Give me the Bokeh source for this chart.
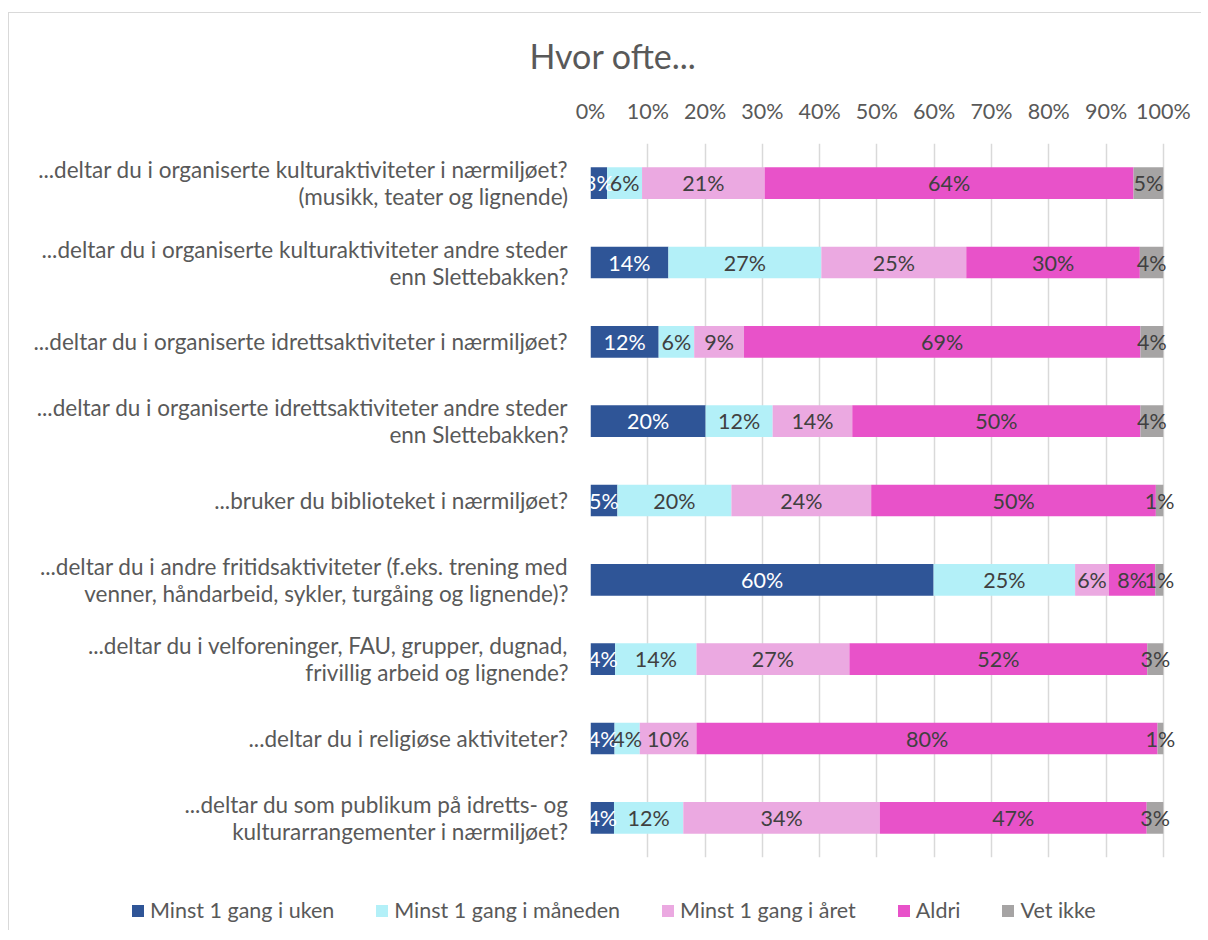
import numpy as np
from bokeh.plotting import figure
from bokeh.layouts import column
from bokeh.models import (ColumnDataSource, FactorRange, Range1d, NumeralTickFormatter,
                          FixedTicker, Legend, LegendItem)
from bokeh.core.properties import value
from bokeh.embed import file_html
from bokeh.resources import INLINE

categories = [
    "...deltar du i organiserte kulturaktiviteter i nærmiljøet?\n(musikk, teater og lignende)",
    "...deltar du i organiserte kulturaktiviteter andre steder\nenn Slettebakken?",
    "...deltar du i organiserte idrettsaktiviteter i nærmiljøet?",
    "...deltar du i organiserte idrettsaktiviteter andre steder\nenn Slettebakken?",
    "...bruker du biblioteket i nærmiljøet?",
    "...deltar du i andre fritidsaktiviteter (f.eks. trening med\nvenner, håndarbeid, sykler, turgåing og lignende)?",
    "...deltar du i velforeninger, FAU, grupper, dugnad,\nfrivillig arbeid og lignende?",
    "...deltar du i religiøse aktiviteter?",
    "...deltar du som publikum på idretts- og\nkulturarrangementer i nærmiljøet?",
]
series = ["Minst 1 gang i uken", "Minst 1 gang i måneden", "Minst 1 gang i året", "Aldri", "Vet ikke"]

uken     = [2.9, 13.6, 11.9, 20.1, 4.7, 59.9, 4.3, 4.2, 4.1]
maaneden = [6.1, 26.7, 6.2, 11.7, 19.9, 24.7, 14.2, 4.4, 12.1]
aaret    = [21.4, 25.3, 8.7, 13.9, 24.4, 5.9, 26.7, 9.9, 34.3]
aldri    = [64.4, 30.3, 69.2, 50.3, 49.7, 8.1, 52.0, 80.5, 46.6]
vet_ikke = [5.2, 4.1, 4.0, 4.0, 1.3, 1.4, 2.8, 1.0, 2.9]

colors = ["#2F5597", "#B3F0F8", "#EBA9E1", "#E852C9", "#A6A4A4"]
label_colors = ["#FFFFFF", "#404040", "#404040", "#404040", "#404040"]

FONT = "Lato"

vals = np.array([uken, maaneden, aaret, aldri, vet_ikke]) / 100.0
rights = np.cumsum(vals, axis=0)
lefts = rights - vals

data = {"cat": categories}
for i in range(len(series)):
    data[f"l{i}"] = lefts[i]
    data[f"r{i}"] = rights[i]
    data[f"m{i}"] = (lefts[i] + rights[i]) / 2
    data[f"t{i}"] = [f"{round(v * 100)}%" for v in vals[i]]
src = ColumnDataSource(data)

p = figure(width=1192, height=857, output_backend="svg", toolbar_location=None,
           y_range=FactorRange(factors=categories[::-1]),
           x_range=Range1d(0, 1.03), x_axis_location="above",
           min_border_left=581, min_border_right=21, min_border_top=130, min_border_bottom=13,
           title="Hvor ofte...")
p.outline_line_color = None
p.background_fill_color = "white"

p.title.text_font = FONT
p.title.text_font_size = "34px"
p.title.text_font_style = "normal"
p.title.text_color = "#595959"
p.title.align = "left"
p.title.offset = -61
p.title.standoff = 38

for i in range(len(series)):
    p.hbar(y="cat", left=f"l{i}", right=f"r{i}", height=0.4, source=src,
           fill_color=colors[i], line_color=None)
for i in range(len(series)):
    p.text(x=f"m{i}", y="cat", text=f"t{i}", source=src, text_align="center",
           text_baseline="middle", text_font=value(FONT), text_font_size="21.5px",
           text_color=label_colors[i])

p.xaxis.ticker = FixedTicker(ticks=[i / 10 for i in range(11)])
p.xaxis.formatter = NumeralTickFormatter(format="0%")
p.xaxis.axis_line_color = None
p.xaxis.major_tick_line_color = None
p.xaxis.minor_tick_line_color = None
p.xaxis.major_tick_out = 0
p.xaxis.major_label_standoff = 20
p.xaxis.major_label_text_font = FONT
p.xaxis.major_label_text_font_size = "21.5px"
p.xaxis.major_label_text_color = "#595959"

p.yaxis.axis_line_color = None
p.yaxis.major_tick_line_color = None
p.yaxis.major_tick_out = 0
p.yaxis.major_label_standoff = 22
p.yaxis.major_label_text_font = FONT
p.yaxis.major_label_text_font_size = "22.5px"
p.yaxis.major_label_text_line_height = 1.0
p.yaxis.major_label_text_color = "#595959"

p.xgrid.grid_line_color = "#D9D9D9"
p.xgrid.grid_line_width = 1.5
p.ygrid.grid_line_color = None

# legend strip below the chart
leg = figure(width=1192, height=60, output_backend="svg", toolbar_location=None,
             x_range=Range1d(0, 1), y_range=Range1d(0, 1),
             min_border_left=0, min_border_right=0, min_border_top=0, min_border_bottom=0)
leg.frame_align = False
leg.xaxis.visible = False
leg.yaxis.visible = False
leg.xgrid.grid_line_color = None
leg.ygrid.grid_line_color = None
leg.outline_line_color = None
leg_renderers = []
for i in range(len(series)):
    # zero-size proxy glyph: only used to draw the legend swatch
    r = leg.hbar(y=[0], left=[0], right=[0], height=0, fill_color=colors[i], line_color=None)
    leg_renderers.append(r)
legend = Legend(items=[LegendItem(label=s, renderers=[r]) for s, r in zip(series, leg_renderers)],
                orientation="horizontal", location=(121, 7),
                glyph_width=15, glyph_height=15, label_standoff=5, spacing=40,
                padding=0, margin=0, border_line_color=None, background_fill_alpha=0,
                label_text_font=FONT, label_text_font_size="21.5px", label_text_color="#595959")
leg.add_layout(legend)

layout = column(p, leg, spacing=0)
layout.styles = {"margin-top": "12px", "margin-left": "8px",
                 "border-top": "1px solid #D9D9D9", "border-left": "1px solid #D9D9D9"}

open("out.html", "w").write(file_html(layout, INLINE))
